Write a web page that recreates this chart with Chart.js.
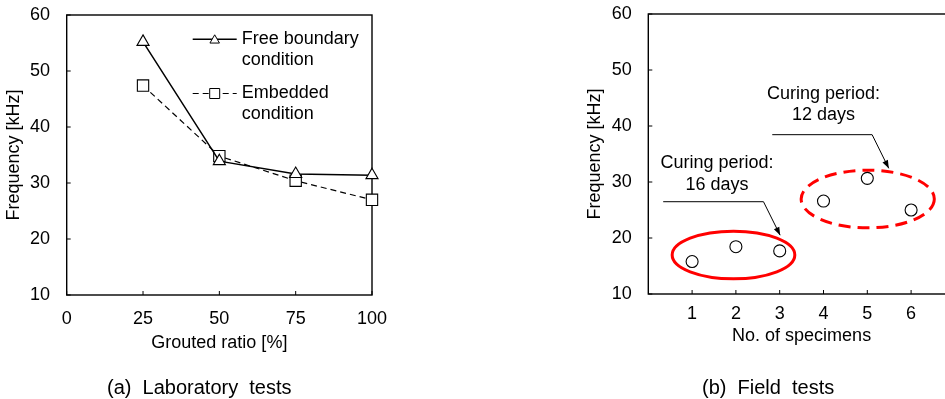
<!DOCTYPE html>
<html>
<head>
<meta charset="utf-8">
<script src="https://cdn.jsdelivr.net/npm/chart.js@4/dist/chart.umd.min.js"></script>
<style>
html,body{margin:0;padding:0;background:#fff;overflow:hidden;}
#wrap{position:relative;width:945px;height:399px;overflow:hidden;background:#fff;}
#wrap canvas{position:absolute;top:0;}
#c1{left:0;}
#c2{left:582px;}
.cap{position:absolute;top:377px;font-family:"Liberation Sans",Arial,sans-serif;font-size:20px;line-height:20px;white-space:pre;color:#000;}
</style>
</head>
<body>
<div id="wrap">
  <canvas id="c1" width="400" height="399"></canvas>
  <canvas id="c2" width="380" height="399"></canvas>
  <div class="cap" style="left:107px;">(a)  Laboratory  tests</div>
  <div class="cap" style="left:702px;">(b)  Field  tests</div>
</div>
<script>
// ---------- data ----------
const groutedRatio   = [25, 50, 75, 100];
const freeBoundary   = [55.2, 33.9, 31.6, 31.4];
const embeddedCond   = [47.4, 34.8, 30.4, 27.0];
const specimenNo     = [1, 2, 3, 4, 5, 6];
const fieldFrequency = [15.8, 18.45, 17.7, 26.6, 30.65, 25.0];
const freqTicks      = [10, 20, 30, 40, 50, 60];
const ratioTicks     = [0, 25, 50, 75, 100];
const specimenTicks  = [1, 2, 3, 4, 5, 6];

// annotation groups of panel (b), in data units
const curingNotes = [
  { text: ['Curing period:', '16 days'], textX: 1.57, baselines: [32.45, 28.57],
    ellipse: { cx: 1.945, cy: 16.96, rx: 1.40, ry: 4.25 }, dashed: false,
    leader: [[0.34, 26.48], [2.63, 26.48], [3.01, 20.5]] },
  { text: ['Curing period:', '12 days'], textX: 4.0, baselines: [44.77, 41.07],
    ellipse: { cx: 5.01, cy: 26.96, rx: 1.52, ry: 5.15 }, dashed: true,
    leader: [[2.83, 38.45], [5.11, 38.45], [5.49, 32.44]] }
];

Chart.defaults.font.family = '"Liberation Sans", Arial, Helvetica, sans-serif';
Chart.defaults.font.size = 18;
Chart.defaults.color = '#000';
Chart.defaults.animation = false;

// frame + inward tick marks
const framePlugin = {
  id: 'frame',
  beforeDatasetsDraw(chart) {
    const {ctx, chartArea: a, scales} = chart;
    ctx.save();
    ctx.strokeStyle = '#000';
    ctx.lineWidth = 1;
    ctx.beginPath();
    scales.x.ticks.forEach(t => {
      const px = scales.x.getPixelForValue(t.value);
      ctx.moveTo(px, a.bottom); ctx.lineTo(px, a.bottom - 4);
    });
    scales.y.ticks.forEach(t => {
      const py = scales.y.getPixelForValue(t.value);
      ctx.moveTo(a.left, py); ctx.lineTo(a.left + 4, py);
    });
    ctx.stroke();
    ctx.lineWidth = 1.4;
    ctx.strokeRect(a.left, a.top, a.right - a.left, a.bottom - a.top);
    ctx.restore();
  }
};

function drawMarker(ctx, style, x, y, r) {
  ctx.beginPath();
  if (style === 'triangle') {
    ctx.moveTo(x, y - r);
    ctx.lineTo(x + r * 0.866, y + r * 0.5);
    ctx.lineTo(x - r * 0.866, y + r * 0.5);
    ctx.closePath();
  } else {
    ctx.rect(x - r, y - r, 2 * r, 2 * r);
  }
  ctx.fillStyle = '#fff';
  ctx.fill();
  ctx.lineWidth = 1;
  ctx.strokeStyle = '#000';
  ctx.stroke();
}

// legend inside the chart area (panel a)
const boxLegend = {
  id: 'boxLegend',
  afterDatasetsDraw(chart) {
    const {ctx, chartArea: a} = chart;
    const rows = [{ line: 24.3, text: 29.3 }, { line: 78.5, text: 82.5 }];
    ctx.save();
    chart.data.datasets.forEach((ds, i) => {
      const ly = a.top + rows[i].line;
      const x0 = a.left + 126, x1 = a.left + 170, xm = a.left + 148;
      ctx.beginPath();
      ctx.setLineDash(ds.borderDash || []);
      ctx.lineWidth = ds.borderWidth;
      ctx.strokeStyle = '#000';
      ctx.moveTo(x0, ly); ctx.lineTo(x1, ly);
      ctx.stroke();
      ctx.setLineDash([]);
      drawMarker(ctx, ds.pointStyle, xm, ly + (ds.pointStyle === 'triangle' ? 1 : 0), ds.pointStyle === 'triangle' ? 5.5 : 5);
      ctx.fillStyle = '#000';
      ctx.font = '18px "Liberation Sans", Arial, sans-serif';
      ctx.textAlign = 'left';
      ctx.textBaseline = 'alphabetic';
      ds.label.forEach((t, k) => ctx.fillText(t, a.left + 175, a.top + rows[i].text + k * 21));
    });
    ctx.restore();
  }
};

// ellipses, leader arrows and notes (panel b)
const curingPlugin = {
  id: 'curing',
  beforeDatasetsDraw(chart) {
    const {ctx, scales: {x, y}} = chart;
    ctx.save();
    curingNotes.forEach(n => {
      const cx = x.getPixelForValue(n.ellipse.cx), cy = y.getPixelForValue(n.ellipse.cy);
      const rx = Math.abs(x.getPixelForValue(n.ellipse.cx + n.ellipse.rx) - cx);
      const ry = Math.abs(y.getPixelForValue(n.ellipse.cy + n.ellipse.ry) - cy);
      ctx.beginPath();
      ctx.setLineDash(n.dashed ? [12, 7] : []);
      ctx.lineWidth = 3;
      ctx.strokeStyle = '#ff0000';
      ctx.ellipse(cx, cy, rx, ry, 0, 0, Math.PI * 2);
      ctx.stroke();
      ctx.setLineDash([]);
      // leader
      const pts = n.leader.map(p => [x.getPixelForValue(p[0]), y.getPixelForValue(p[1])]);
      ctx.beginPath();
      ctx.lineWidth = 1;
      ctx.strokeStyle = '#000';
      ctx.moveTo(pts[0][0], pts[0][1]);
      for (let k = 1; k < pts.length; k++) ctx.lineTo(pts[k][0], pts[k][1]);
      ctx.stroke();
      const [bx, by] = pts[pts.length - 2], [tx, ty] = pts[pts.length - 1];
      const ang = Math.atan2(ty - by, tx - bx);
      ctx.beginPath();
      ctx.moveTo(tx, ty);
      ctx.lineTo(tx - 8 * Math.cos(ang) + 3 * Math.sin(ang), ty - 8 * Math.sin(ang) - 3 * Math.cos(ang));
      ctx.lineTo(tx - 8 * Math.cos(ang) - 3 * Math.sin(ang), ty - 8 * Math.sin(ang) + 3 * Math.cos(ang));
      ctx.closePath();
      ctx.fillStyle = '#000';
      ctx.fill();
      // text
      ctx.font = '18px "Liberation Sans", Arial, sans-serif';
      ctx.textAlign = 'center';
      ctx.textBaseline = 'alphabetic';
      n.text.forEach((t, k) => ctx.fillText(t, x.getPixelForValue(n.textX), y.getPixelForValue(n.baselines[k])));
    });
    ctx.restore();
  }
};

const axisCommon = {
  grid: { display: false, drawTicks: false },
  border: { display: false }
};
function noPad(s) { s.paddingTop = 0; s.paddingBottom = 0; s.paddingLeft = 0; s.paddingRight = 0; }

new Chart(document.getElementById('c1'), {
  type: 'scatter',
  data: {
    datasets: [
      { label: ['Free boundary', 'condition'],
        data: groutedRatio.map((v, i) => ({ x: v, y: freeBoundary[i] })),
        showLine: true, borderColor: '#000', borderWidth: 1.5,
        pointStyle: 'triangle', pointRadius: 7, pointBorderWidth: 1.1,
        pointBackgroundColor: '#fff', pointBorderColor: '#000', clip: false },
      { label: ['Embedded', 'condition'],
        data: groutedRatio.map((v, i) => ({ x: v, y: embeddedCond[i] })),
        showLine: true, borderColor: '#000', borderWidth: 1.2, borderDash: [6, 4],
        pointStyle: 'rect', pointRadius: 8, pointBorderWidth: 1.1,
        pointBackgroundColor: '#fff', pointBorderColor: '#000', clip: false }
    ]
  },
  options: {
    responsive: false, animation: false,
    layout: { padding: { left: 0, top: 15, right: 28, bottom: 0 } },
    plugins: { legend: { display: false }, tooltip: { enabled: false } },
    scales: {
      x: { ...axisCommon, type: 'linear', min: 0, max: 100,
        afterBuildTicks: s => { s.ticks = ratioTicks.map(v => ({ value: v })); },
        afterFit: s => { s.height = 104; noPad(s); },
        ticks: { padding: 13.2 },
        title: { display: true, text: 'Grouted ratio [%]', padding: { top: 0, bottom: 45 } } },
      y: { ...axisCommon, min: 10, max: 60,
        afterBuildTicks: s => { s.ticks = freqTicks.map(v => ({ value: v })); },
        afterFit: s => { s.width = 66.7; noPad(s); },
        ticks: { padding: 16.7 },
        title: { display: true, text: 'Frequency [kHz]', padding: { top: 3.2, bottom: 0 } } }
    }
  },
  plugins: [framePlugin, boxLegend]
});

new Chart(document.getElementById('c2'), {
  type: 'scatter',
  data: {
    datasets: [
      { label: 'Field tests',
        data: specimenNo.map((v, i) => ({ x: v, y: fieldFrequency[i] })),
        showLine: false, pointStyle: 'circle', pointRadius: 6, pointBorderWidth: 1.1,
        pointBackgroundColor: '#fff', pointBorderColor: '#000', clip: false }
    ]
  },
  options: {
    responsive: false, animation: false,
    layout: { padding: { left: 0, top: 14, right: 6.3, bottom: 0 } },
    plugins: { legend: { display: false }, tooltip: { enabled: false } },
    scales: {
      x: { ...axisCommon, type: 'linear', min: 0, max: 7,
        afterBuildTicks: s => { s.ticks = specimenTicks.map(v => ({ value: v })); },
        afterFit: s => { s.height = 105; noPad(s); },
        ticks: { padding: 9.2 },
        title: { display: true, text: 'No. of specimens', padding: { top: 0, bottom: 52.2 } } },
      y: { ...axisCommon, min: 10, max: 60,
        afterBuildTicks: s => { s.ticks = freqTicks.map(v => ({ value: v })); },
        afterFit: s => { s.width = 66.3; noPad(s); },
        ticks: { padding: 16.6 },
        title: { display: true, text: 'Frequency [kHz]', padding: { top: 2.5, bottom: 0 } } }
    }
  },
  plugins: [framePlugin, curingPlugin]
});
</script>
</body>
</html>
